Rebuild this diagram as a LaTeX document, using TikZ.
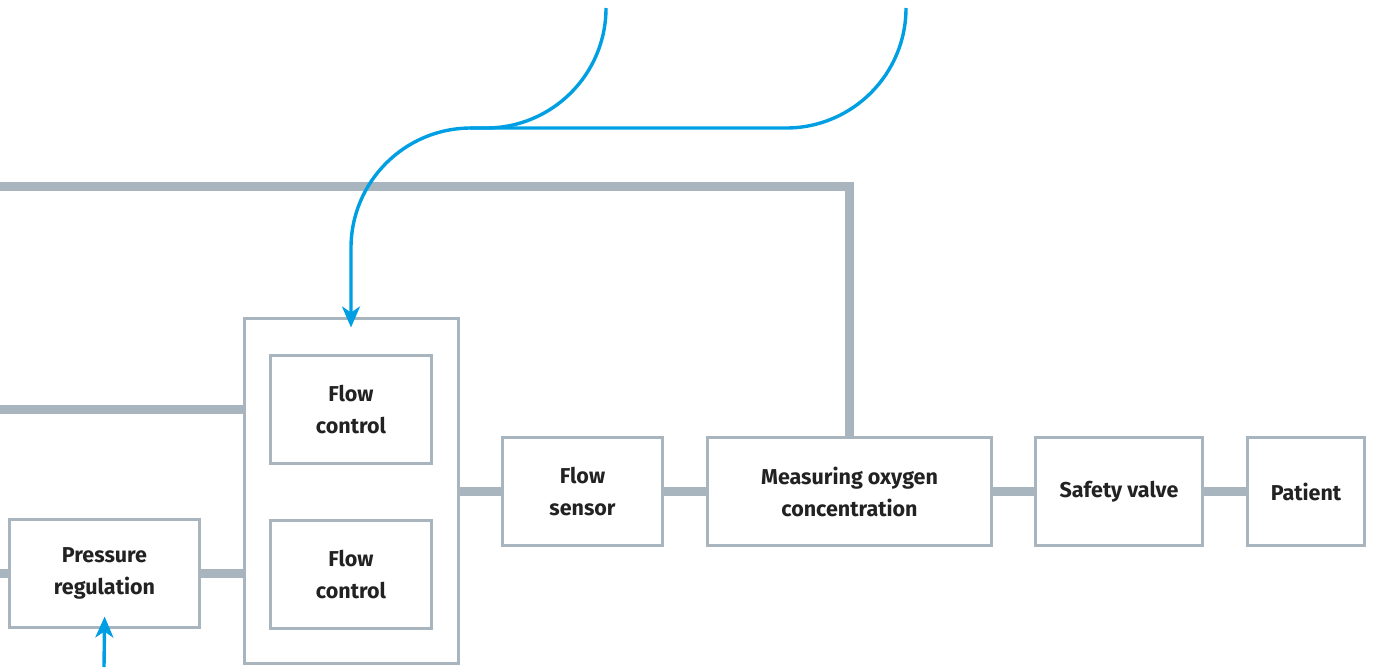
\documentclass[tikz,border=0pt]{standalone}
\usepackage{fontspec}
\setmainfont{Fira Sans}
\usepackage{tikz}
\usetikzlibrary{arrows.meta,positioning,calc}

\definecolor{pipegray}{HTML}{A8B5BE}
\definecolor{signalblue}{HTML}{009FE3}
\definecolor{labeltext}{HTML}{222222}

\begin{document}
\begin{tikzpicture}[x=1pt,y=-1pt,
    unit/.style={draw=pipegray,line width=3.2pt,fill=white,inner sep=0pt,outer sep=0pt,
      minimum height=108pt,align=center,text=labeltext,
      font=\bfseries\fontsize{21.5}{32}\selectfont},
    pipe/.style={draw=pipegray,line width=9pt},
    signal/.style={draw=signalblue,line width=3.4pt},
    tip/.style={-{Stealth[length=21pt,width=18pt,inset=6pt]}}]
  \useasboundingbox (0,0) rectangle (1375,667);
  % units
  \node[unit,minimum width=190pt] (preg) at (104.5,573.5) {Pressure\\regulation};
  \node[unit,minimum width=214pt,minimum height=345pt] (block) at (351.5,491) {};
  \node[unit,minimum width=161pt] (fcup) at (351,409.5) {Flow\\control};
  \node[unit,minimum width=161pt] (fclow) at (351,574.5) {Flow\\control};
  \node[unit,minimum width=160pt] (fsens) at (582.5,491.5) {Flow\\sensor};
  \node[unit,minimum width=284pt] (oxy) at (849.5,491.5) {Measuring oxygen\\concentration};
  \node[unit,minimum width=167pt] (valve) at (1119,491.5) {Safety valve};
  \node[unit,minimum width=117pt] (patient) at (1306,491.5) {Patient};
  % free ends
  \coordinate (topin) at (0,186);
  \coordinate (midin) at (0,409);
  \coordinate (pregin) at (0,573.5);
  \coordinate (srcA) at (606,8);
  \coordinate (srcB) at (906,8);
  \coordinate (join) at (470,128);
  \coordinate (bend) at (351,128);
  \coordinate (srcIn) at (104,667);
  % gas lines
  \draw[pipe] (topin) -| (oxy.north);
  \draw[pipe] (midin) -- (midin -| block.west);
  \draw[pipe] (pregin) -- (preg.west);
  \draw[pipe] (preg.east) -- (preg.east -| block.west);
  \draw[pipe] (block.east |- fsens.west) -- (fsens.west);
  \draw[pipe] (fsens.east) -- (oxy.west);
  \draw[pipe] (oxy.east) -- (valve.west);
  \draw[pipe] (valve.east) -- (patient.west);
  % signals
  \draw[signal,rounded corners=120pt] (srcA) |- (join);
  \draw[signal,tip,rounded corners=120pt,shorten >=-9pt] (srcB) |- (bend) -- (block.north -| bend);
  \draw[signal,tip,shorten >=-11pt] (srcIn) -- (preg.south);
\end{tikzpicture}
\end{document}
